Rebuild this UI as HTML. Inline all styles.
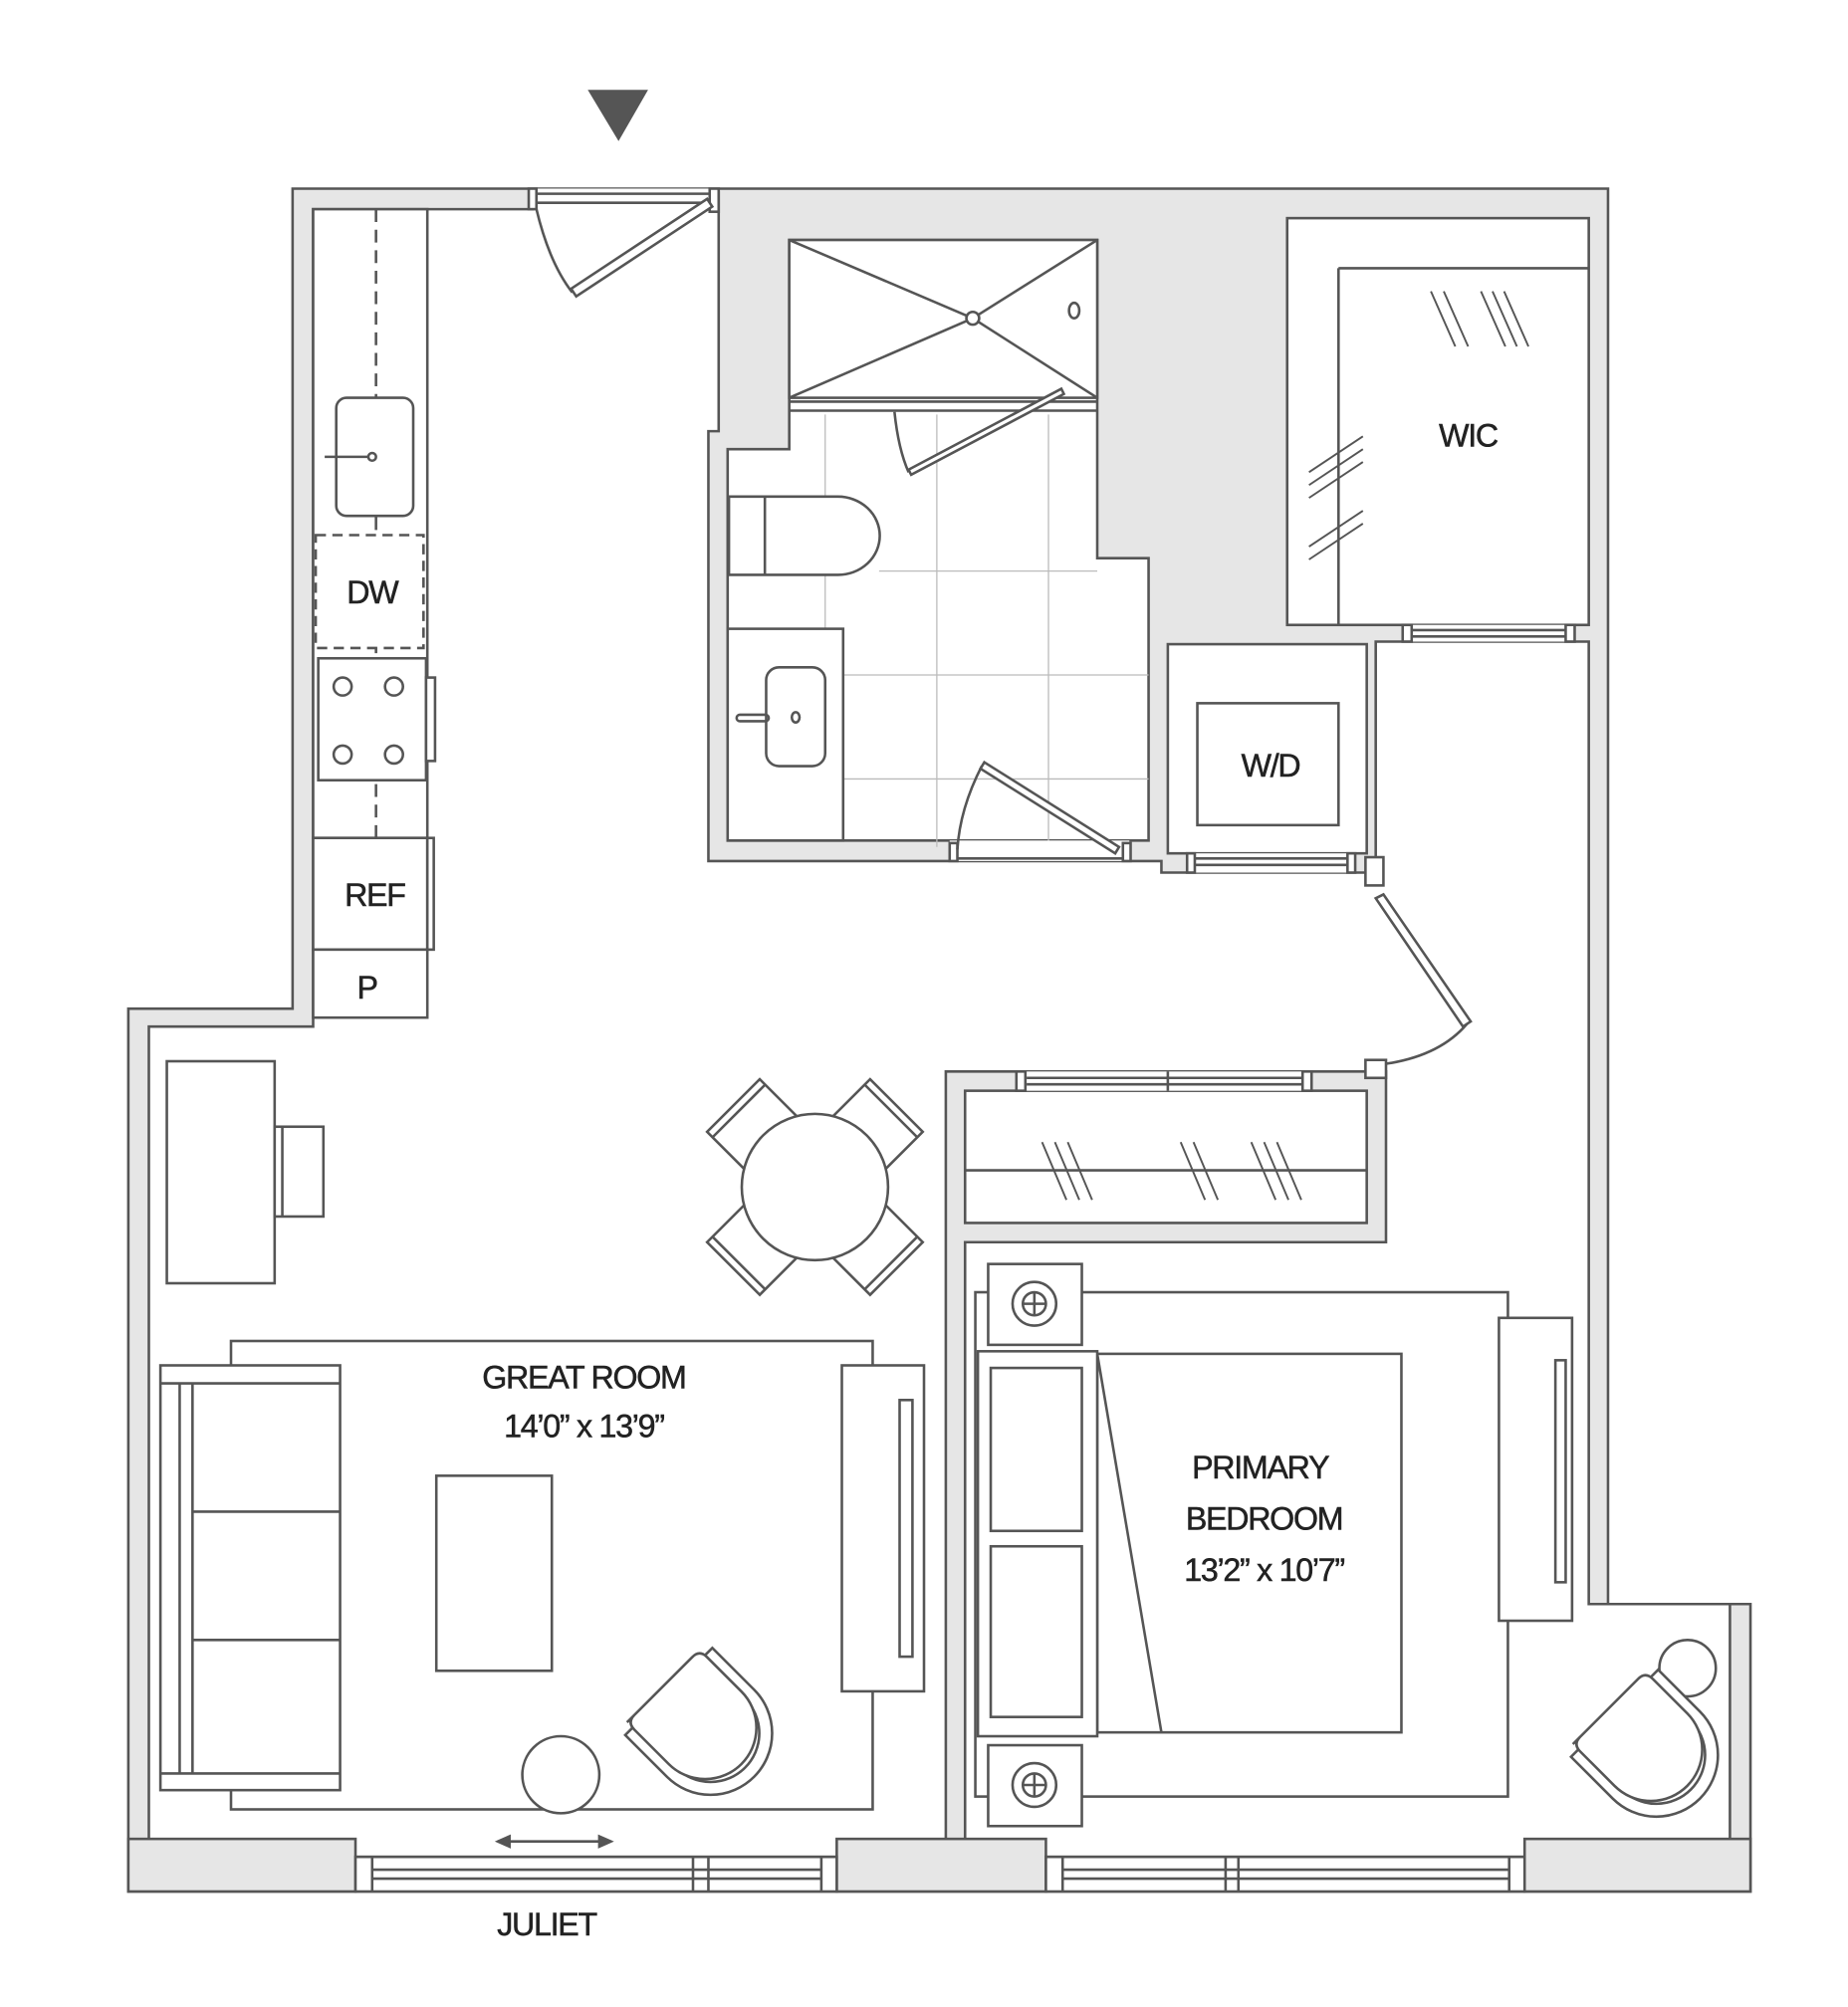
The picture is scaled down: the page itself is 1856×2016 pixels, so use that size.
<!DOCTYPE html>
<html><head><meta charset="utf-8"><style>
html,body{margin:0;padding:0;background:#fff;}
svg{display:block;}
text{font-family:"Liberation Sans",sans-serif;fill:#222;text-anchor:middle;stroke:#222;stroke-width:0.4;}
</style></head><body>
<svg width="1856" height="2016" viewBox="0 0 1440 1564" preserveAspectRatio="none" xmlns="http://www.w3.org/2000/svg">
<defs>
<g id="chair">
<path d="M-48,-38 V8 A48,48 0 0 0 48,8 V-38 L38,-38 V8 A38,38 0 0 1 -38,8 V-38 Z" fill="#fff"/>
<path d="M-40,-44 H32 Q40,-44 40,-36 V2 A40,40 0 0 1 -40,2 V-36 Q-40,-44 -32,-44 Z" fill="#fff"/>
</g>
<g id="dchair">
<rect x="-29" y="-29" width="58" height="58" fill="#fff"/>
<line x1="-29" y1="-23" x2="29" y2="-23"/>
</g>
</defs>
<g stroke="#555" stroke-width="2" fill="none">
<polygon points="100,786 228,786 228,147 1253,147 1253,1250 1364,1250 1364,1474 100,1474" fill="#e6e6e6"/>
<polygon points="244,163 415,163 415,150 560,150 560,336 552,336 552,671 905,671 905,680 1072,680 1072,500 1238,500 1238,1250 1348,1250 1348,1447 752,1447 752,968 1080,968 1080,835 737,835 737,1447 116,1447 116,800 244,800" fill="#fff"/>
<rect x="100" y="1433" width="177" height="41" fill="#e6e6e6"/>
<rect x="652" y="1433" width="163" height="41" fill="#e6e6e6"/>
<rect x="1188" y="1433" width="176" height="41" fill="#e6e6e6"/>
<rect x="277" y="1447" width="375" height="27" fill="#fff"/>
<rect x="815" y="1447" width="373" height="27" fill="#fff"/>
<line x1="290" y1="1457" x2="640" y2="1457"/><line x1="290" y1="1464" x2="640" y2="1464"/>
<line x1="540" y1="1447" x2="540" y2="1474"/><line x1="552" y1="1447" x2="552" y2="1474"/>
<line x1="828" y1="1457" x2="1176" y2="1457"/><line x1="828" y1="1464" x2="1176" y2="1464"/>
<line x1="955" y1="1447" x2="955" y2="1474"/><line x1="965" y1="1447" x2="965" y2="1474"/>
<line x1="290" y1="1447" x2="290" y2="1474"/><line x1="640" y1="1447" x2="640" y2="1474"/>
<line x1="828" y1="1447" x2="828" y2="1474"/><line x1="1176" y1="1447" x2="1176" y2="1474"/>
<polygon points="615,187 855,187 855,435 895,435 895,655 567,655 567,350 615,350" fill="#fff"/>
<g stroke="#bbb" stroke-width="1">
<line x1="643" y1="323" x2="643" y2="490"/><line x1="730" y1="323" x2="730" y2="660"/><line x1="817" y1="323" x2="817" y2="660"/>
<line x1="685" y1="445" x2="855" y2="445"/><line x1="657" y1="526" x2="895" y2="526"/><line x1="657" y1="607" x2="895" y2="607"/>
</g>
<rect x="615" y="187" width="240" height="123" fill="#fff"/>
<line x1="615" y1="187" x2="758" y2="248"/><line x1="855" y1="187" x2="758" y2="248"/>
<line x1="615" y1="310" x2="758" y2="248"/><line x1="855" y1="310" x2="758" y2="248"/>
<circle cx="758" cy="248" r="5" fill="#fff"/>
<ellipse cx="837" cy="242" rx="4" ry="6" fill="#fff"/>
<line x1="615" y1="313" x2="855" y2="313"/><line x1="615" y1="320" x2="855" y2="320"/>
<polygon points="708,366 827,303 829,307 710,370" fill="#fff"/>
<path d="M697,321 Q700,350 708,368"/>
<path d="M568,387 H653 A32,30 0 0 1 653,448 H568 Z" fill="#fff"/>
<line x1="596" y1="387" x2="596" y2="448"/>
<rect x="567" y="490" width="90" height="165" fill="#fff"/>
<rect x="597" y="520" width="46" height="77" rx="10" fill="#fff"/>
<rect x="574" y="557" width="25" height="5" rx="2.5"/><ellipse cx="620" cy="559" rx="3" ry="4"/>
<rect x="740" y="655" width="140" height="16" fill="#fff" stroke="none"/>
<line x1="745" y1="669" x2="880" y2="669"/>
<rect x="740" y="657" width="6" height="14" fill="#fff"/><rect x="875" y="657" width="6" height="14" fill="#fff"/>
<polygon points="767,594 872,660 869,665 764,599" fill="#fff"/>
<path d="M765,597 Q748,630 746,662"/>
<rect x="1003" y="170" width="235" height="317" fill="#fff"/>
<line x1="1043" y1="209" x2="1238" y2="209"/><line x1="1043" y1="209" x2="1043" y2="487"/>
<g stroke-width="1.5">
<line x1="1115" y1="227" x2="1134" y2="270"/><line x1="1125" y1="227" x2="1144" y2="270"/>
<line x1="1154" y1="227" x2="1173" y2="270"/><line x1="1163" y1="227" x2="1182" y2="270"/><line x1="1172" y1="227" x2="1191" y2="270"/>
<line x1="1020" y1="368" x2="1062" y2="340"/><line x1="1020" y1="378" x2="1062" y2="350"/><line x1="1020" y1="388" x2="1062" y2="360"/>
<line x1="1020" y1="426" x2="1062" y2="398"/><line x1="1020" y1="436" x2="1062" y2="408"/>
</g>
<rect x="1097" y="487" width="125" height="13" fill="#fff" stroke="none"/>
<line x1="1100" y1="491" x2="1220" y2="491"/><line x1="1100" y1="496" x2="1220" y2="496"/>
<rect x="1093" y="487" width="7" height="13" fill="#fff"/><rect x="1220" y="487" width="7" height="13" fill="#fff"/>
<rect x="910" y="502" width="155" height="163" fill="#fff"/>
<rect x="933" y="548" width="110" height="95" fill="#fff"/>
<rect x="928" y="665" width="125" height="15" fill="#fff" stroke="none"/>
<line x1="930" y1="669" x2="1052" y2="669"/><line x1="930" y1="674" x2="1052" y2="674"/>
<rect x="925" y="665" width="6" height="15" fill="#fff"/><rect x="1050" y="665" width="6" height="15" fill="#fff"/>
<rect x="1064" y="668" width="14" height="22" fill="#fff"/>
<polygon points="1072,700 1078,697 1146,796 1140,800" fill="#fff"/>
<path d="M1143,798 Q1120,825 1072,830"/>
<rect x="1064" y="826" width="16" height="14" fill="#fff"/>
<rect x="752" y="850" width="313" height="103" fill="#fff"/>
<line x1="752" y1="912" x2="1065" y2="912"/>
<rect x="797" y="835" width="220" height="15" fill="#fff" stroke="none"/>
<line x1="800" y1="840" x2="1015" y2="840"/><line x1="800" y1="845" x2="1015" y2="845"/>
<line x1="910" y1="835" x2="910" y2="850"/>
<rect x="792" y="835" width="7" height="15" fill="#fff"/><rect x="1015" y="835" width="7" height="15" fill="#fff"/>
<g stroke-width="1.5">
<line x1="812" y1="890" x2="831" y2="935"/><line x1="822" y1="890" x2="841" y2="935"/><line x1="832" y1="890" x2="851" y2="935"/>
<line x1="920" y1="890" x2="939" y2="935"/><line x1="930" y1="890" x2="949" y2="935"/>
<line x1="975" y1="890" x2="994" y2="935"/><line x1="985" y1="890" x2="1004" y2="935"/><line x1="995" y1="890" x2="1014" y2="935"/>
</g>
<rect x="415" y="147" width="145" height="16" fill="#fff" stroke="none"/>
<line x1="418" y1="151" x2="555" y2="151"/><line x1="418" y1="158" x2="555" y2="158"/>
<rect x="412" y="147" width="6" height="16" fill="#fff"/><rect x="553" y="147" width="7" height="18" fill="#fff"/>
<polygon points="445,225 551,155 555,161 449,231" fill="#fff"/>
<path d="M418,163 Q428,205 446,228"/>
<rect x="244" y="163" width="89" height="490" fill="#fff"/>
<line x1="293" y1="163" x2="293" y2="653" stroke-dasharray="10,6"/>
<rect x="262" y="310" width="60" height="92" rx="8" fill="#fff"/>
<line x1="253" y1="356" x2="290" y2="356"/><circle cx="290" cy="356" r="3" fill="#fff"/>
<rect x="246" y="417" width="84" height="88" fill="#fff" stroke-dasharray="8,5"/>
<rect x="248" y="513" width="84" height="95" fill="#fff"/>
<rect x="332" y="528" width="7" height="65" fill="#fff"/>
<circle cx="267" cy="535" r="7"/><circle cx="307" cy="535" r="7"/><circle cx="267" cy="588" r="7"/><circle cx="307" cy="588" r="7"/>
<rect x="244" y="653" width="89" height="87" fill="#fff"/>
<rect x="333" y="653" width="5" height="87" fill="#fff"/>
<rect x="244" y="740" width="89" height="53" fill="#fff"/>
<rect x="130" y="827" width="84" height="173" fill="#fff"/>
<rect x="214" y="878" width="38" height="70" fill="#fff"/><line x1="220" y1="878" x2="220" y2="948"/>
<!-- dining -->
<use href="#dchair" transform="translate(592,882) rotate(-45)"/>
<use href="#dchair" transform="translate(678,882) rotate(45)"/>
<use href="#dchair" transform="translate(678,968) rotate(135)"/>
<use href="#dchair" transform="translate(592,968) rotate(-135)"/>
<circle cx="635" cy="925" r="57" fill="#fff"/>
<rect x="180" y="1045" width="500" height="365" fill="#fff"/>
<rect x="125" y="1064" width="140" height="331" fill="#fff"/>
<line x1="140" y1="1078" x2="140" y2="1382"/><line x1="150" y1="1078" x2="150" y2="1382"/>
<line x1="125" y1="1078" x2="265" y2="1078"/><line x1="125" y1="1382" x2="265" y2="1382"/>
<line x1="150" y1="1178" x2="265" y2="1178"/><line x1="150" y1="1278" x2="265" y2="1278"/>
<rect x="340" y="1150" width="90" height="152" fill="#fff"/>
<rect x="656" y="1064" width="64" height="254" fill="#fff"/>
<rect x="701" y="1091" width="10" height="200"/>
<circle cx="437" cy="1383" r="30" fill="#fff"/>
<use href="#chair" transform="translate(548,1345) rotate(-45)"/>
<line x1="388" y1="1435" x2="476" y2="1435"/>
<path d="M388,1435 l9,-4 v8 z M476,1435 l-9,-4 v8 z" fill="#555"/>
<rect x="760" y="1007" width="415" height="393" fill="#fff"/>
<rect x="855" y="1055" width="237" height="295" fill="#fff"/>
<line x1="855" y1="1055" x2="905" y2="1350"/>
<rect x="762" y="1053" width="93" height="300" fill="#fff"/>
<rect x="772" y="1066" width="71" height="127" fill="#fff"/><rect x="772" y="1205" width="71" height="133" fill="#fff"/>
<rect x="770" y="985" width="73" height="63" fill="#fff"/>
<circle cx="806" cy="1016" r="17"/><circle cx="806" cy="1016" r="9"/>
<line x1="797" y1="1016" x2="815" y2="1016"/><line x1="806" y1="1007" x2="806" y2="1025"/>
<rect x="770" y="1360" width="73" height="63" fill="#fff"/>
<circle cx="806" cy="1391" r="17"/><circle cx="806" cy="1391" r="9"/>
<line x1="797" y1="1391" x2="815" y2="1391"/><line x1="806" y1="1382" x2="806" y2="1400"/>
<rect x="1168" y="1027" width="57" height="236" fill="#fff"/>
<rect x="1212" y="1060" width="8" height="173"/>
<circle cx="1315" cy="1300" r="22" fill="#fff"/>
<use href="#chair" transform="translate(1285,1362) rotate(-45)"/>
</g>
<polygon points="458,70 505,70 482,110" fill="#555"/>
<g font-size="25" letter-spacing="-1">
<text x="1144" y="348">WIC</text>
<text x="290" y="470">DW</text>
<text x="990" y="605">W/D</text>
<text x="292" y="706">REF</text>
<text x="286" y="778">P</text>
<text x="455" y="1082">GREAT ROOM</text>
<text x="455" y="1120">14’0” x 13’9”</text>
<text x="982" y="1152">PRIMARY</text>
<text x="985" y="1192">BEDROOM</text>
<text x="985" y="1232">13’2” x 10’7”</text>
<text x="426" y="1508">JULIET</text>
</g>
</svg>
</body></html>
